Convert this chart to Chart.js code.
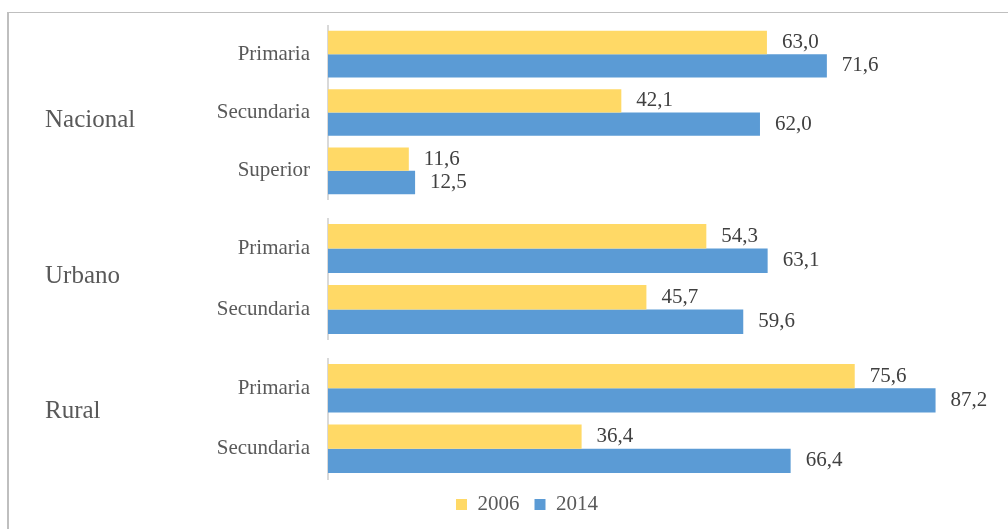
<!DOCTYPE html>
<html>
<head>
<meta charset="utf-8">
<script src="https://cdn.jsdelivr.net/npm/chart.js@4"></script>
<style>
    body {
        margin: 0;
        width: 1008px;
        height: 529px;
        overflow: hidden;
        background: #fff;
        position: relative;
    }
    .frame {
        position: absolute;
        left: 7px;
        top: 12px;
        width: 1100px;
        height: 600px;
        border-left: 2px solid #bfbfbf;
        border-top: 1px solid #bfbfbf;
    }
    .box {
        position: absolute;
        left: 0;
        width: 1054px;
    }
</style>
</head>
<body>
<div class="frame"></div>
<div class="box" style="top:25px;height:175px"><canvas id="chartNacional"></canvas></div>
<div class="box" style="top:218px;height:122px"><canvas id="chartUrbano"></canvas></div>
<div class="box" style="top:358px;height:167px"><canvas id="chartRural"></canvas></div>

<script>
// datos
const groups = ['Nacional', 'Urbano', 'Rural'];

const levels = [
    ['Primaria', 'Secundaria', 'Superior'],
    ['Primaria', 'Secundaria'],
    ['Primaria', 'Secundaria']
];

const series = ['2006', '2014'];

const values2006 = [
    [63.0, 42.1, 11.6],
    [54.3, 45.7],
    [75.6, 36.4]
];

const values2014 = [
    [71.6, 62.0, 12.5],
    [63.1, 59.6],
    [87.2, 66.4]
];

const canvasIds = ['chartNacional', 'chartUrbano', 'chartRural'];

// pequeño ajuste vertical del nombre de cada grupo
const groupLabelShift = [8, -3, -7];

Chart.defaults.font.family = "'Liberation Serif', 'Times New Roman', serif";
Chart.defaults.color = '#595959';

// texto del grupo a la izquierda
const groupLabel = {
    id: 'groupLabel',
    afterDraw(chart, args, opts) {
        const ctx = chart.ctx;
        const area = chart.chartArea;
        ctx.save();
        ctx.font = "25px 'Liberation Serif', serif";
        ctx.fillStyle = '#595959';
        ctx.textAlign = 'left';
        ctx.textBaseline = 'middle';
        ctx.fillText(opts.text, 45, (area.top + area.bottom) / 2 + opts.shift);
        ctx.restore();
    }
};

// etiquetas de valor al final de cada barra
const valueLabels = {
    id: 'valueLabels',
    afterDatasetsDraw(chart) {
        const ctx = chart.ctx;
        ctx.save();
        ctx.font = "21px 'Liberation Serif', serif";
        ctx.fillStyle = '#404040';
        ctx.textAlign = 'left';
        ctx.textBaseline = 'middle';
        chart.data.datasets.forEach((ds, i) => {
            chart.getDatasetMeta(i).data.forEach((bar, j) => {
                const txt = ds.data[j].toFixed(1).replace('.', ',');
                ctx.fillText(txt, bar.x + 15, bar.y);
            });
        });
        ctx.restore();
    }
};

groups.forEach((name, g) => {

    const isLast = g === groups.length - 1;

    new Chart(document.getElementById(canvasIds[g]), {

        type: 'bar',

        data: {
            labels: levels[g],
            datasets: [{
                    label: series[0],
                    data: values2006[g],
                    backgroundColor: '#ffd966'
                }, {
                    label: series[1],
                    data: values2014[g],
                    backgroundColor: '#5b9bd5'
                }]
        },

        options: {
            indexAxis: 'y',
            responsive: true,
            maintainAspectRatio: false,
            animation: false,
            layout: {
                padding: 0
            },
            datasets: {
                bar: {
                    categoryPercentage: 0.8,
                    barPercentage: 1,
                    borderWidth: 0
                }
            },
            plugins: {
                groupLabel: {
                    text: name,
                    shift: groupLabelShift[g]
                },
                tooltip: {
                    enabled: false
                },
                legend: {
                    display: isLast,
                    position: 'bottom',
                    labels: {
                        boxWidth: 11,
                        boxHeight: 11,
                        padding: 15,
                        color: '#595959',
                        font: {
                            size: 21
                        }
                    }
                }
            },
            scales: {
                x: {
                    display: false,
                    min: 0,
                    max: 104.2
                },
                y: {
                    afterFit: (scale) => {
                        scale.width = 328;
                        scale.paddingTop = 0;
                        scale.paddingBottom = 0;
                    },
                    grid: {
                        display: false,
                        drawTicks: false
                    },
                    border: {
                        color: '#d9d9d9',
                        width: 2
                    },
                    ticks: {
                        autoSkip: false,
                        padding: 18,
                        color: '#595959',
                        font: {
                            size: 21
                        }
                    }
                }
            }
        },

        plugins: [groupLabel, valueLabels]
    });
});
</script>
</body>
</html>
